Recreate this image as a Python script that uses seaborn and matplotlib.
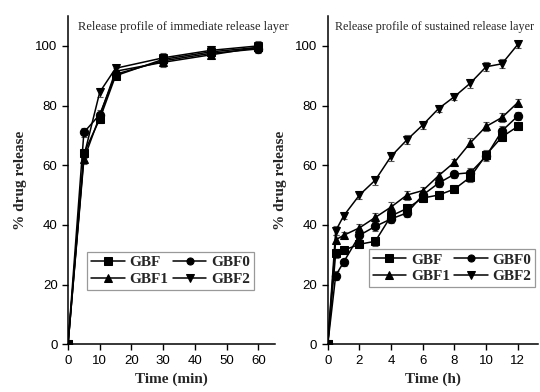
import matplotlib
matplotlib.use("Agg")
import matplotlib.pyplot as plt
import numpy as np
import pandas as pd
import seaborn as sns

formulations = ["GBF", "GBF0", "GBF1", "GBF2"]
markers = {"GBF": "s", "GBF0": "o", "GBF1": "^", "GBF2": "v"}

# immediate release layer (min)
time_ir = [0, 5, 10, 15, 30, 45, 60]
ir_gbf = [0, 64, 75.5, 90, 95.5, 98, 99.5]
ir_gbf0 = [0, 71, 77, 90.5, 95, 97.5, 99]
ir_gbf1 = [0, 62, 76.5, 91.5, 94.5, 97, 99.5]
ir_gbf2 = [0, 63, 84.5, 92.5, 96, 98.5, 100]
ir_err = [0, 1.5, 1.5, 1.2, 1.5, 1.5, 1.5]

# sustained release layer (h)
time_sr = [0, 0.5, 1, 2, 3, 4, 5, 6, 7, 8, 9, 10, 11, 12]
sr_gbf = [0, 30.5, 31.5, 33.5, 34.5, 43, 45.5, 49, 50, 52, 56, 63.5, 69.5, 73]
sr_gbf0 = [0, 23, 27.5, 36.5, 39.5, 42, 44, 50, 54, 57, 57.5, 63, 71.5, 76.5]
sr_gbf1 = [0, 35, 36.5, 39, 42.5, 46, 50, 51.5, 56.5, 61, 67.5, 73, 76, 81]
sr_gbf2 = [0, 38, 43, 50, 55, 63, 68.5, 73.5, 79, 83, 87.5, 93, 94, 100.5]
sr_err = [0, 1.5, 1.2, 1.2, 1.5, 1.5, 1.5, 1.2, 1.2, 1.2, 1.5, 1.5, 1.5, 1.2]


def long_df(t, series):
    rows = []
    for name, vals in zip(formulations, series):
        for x, y in zip(t, vals):
            rows.append({"time": x, "release": y, "formulation": name})
    return pd.DataFrame(rows)


ir_df = long_df(time_ir, [ir_gbf, ir_gbf0, ir_gbf1, ir_gbf2])
sr_df = long_df(time_sr, [sr_gbf, sr_gbf0, sr_gbf1, sr_gbf2])

sns.set_style("ticks")
plt.rcParams["font.family"] = ["Liberation Sans", "DejaVu Sans"]

fig = plt.figure(figsize=(5.4, 3.92), dpi=100)
ax1 = fig.add_axes([0.126, 0.122, 0.384, 0.837])
ax2 = fig.add_axes([0.607, 0.122, 0.39, 0.837])

serif = "Liberation Serif"
panels = [
    (ax1, ir_df, ir_err, "Time (min)", (0, 65.4), [0, 10, 20, 30, 40, 50, 60],
     "Release profile of immediate release layer", 0.05, 9, (0.092, 0.165)),
    (ax2, sr_df, sr_err, "Time (h)", (0, 13.3), [0, 2, 4, 6, 8, 10, 12],
     "Release profile of sustained release layer", 0.035, 8.7, (0.195, 0.174)),
]

for ax, df, err, xlabel, xlim, xticks, title, tx, tsize, legpos in panels:
    for name in formulations:
        sub = df[df["formulation"] == name]
        ax.errorbar(sub["time"], sub["release"], yerr=err, fmt="none",
                    ecolor="#555555", elinewidth=0.8, capsize=2.5, capthick=0.8, zorder=1)
    sns.lineplot(data=df, x="time", y="release", hue="formulation", style="formulation",
                 palette=["black"] * 4, markers=markers, dashes=False, markersize=6,
                 markeredgecolor="black", linewidth=1.1, ax=ax, zorder=3)
    ax.set_xlim(*xlim)
    ax.set_ylim(0, 110)
    ax.set_xticks(xticks)
    ax.set_yticks([0, 20, 40, 60, 80, 100])
    ax.tick_params(direction="out", length=4, width=1, labelsize=9.5, colors="black")
    for s in ["top", "right"]:
        ax.spines[s].set_visible(False)
    for s in ["left", "bottom"]:
        ax.spines[s].set_linewidth(1.1)
        ax.spines[s].set_color("black")
    ax.set_xlabel(xlabel, fontfamily=serif, fontweight="bold", fontsize=11)
    ax.set_ylabel("% drug release", fontfamily=serif, fontweight="bold", fontsize=11)
    ax.text(tx, 0.985, title, transform=ax.transAxes, fontfamily=serif,
            fontsize=tsize, va="top", ha="left")
    handles, labels = ax.get_legend_handles_labels()
    # matplotlib fills legend columns first; reorder so rows read GBF GBF0 / GBF1 GBF2
    order = [0, 2, 1, 3]
    leg = ax.legend([handles[i] for i in order], [labels[i] for i in order], ncol=2,
                    loc="lower left", bbox_to_anchor=legpos, borderaxespad=0,
                    prop={"family": serif, "weight": "bold", "size": 11},
                    frameon=True, fancybox=False, edgecolor="gray",
                    handlelength=2.2, handletextpad=0.3, columnspacing=0.3,
                    labelspacing=0.2, borderpad=0.25, markerscale=0.85)
    leg.get_frame().set_linewidth(0.9)

ax1.yaxis.set_label_coords(-0.2, 0.5)
ax2.yaxis.set_label_coords(-0.195, 0.5)

fig.savefig("out.png", dpi=100)
